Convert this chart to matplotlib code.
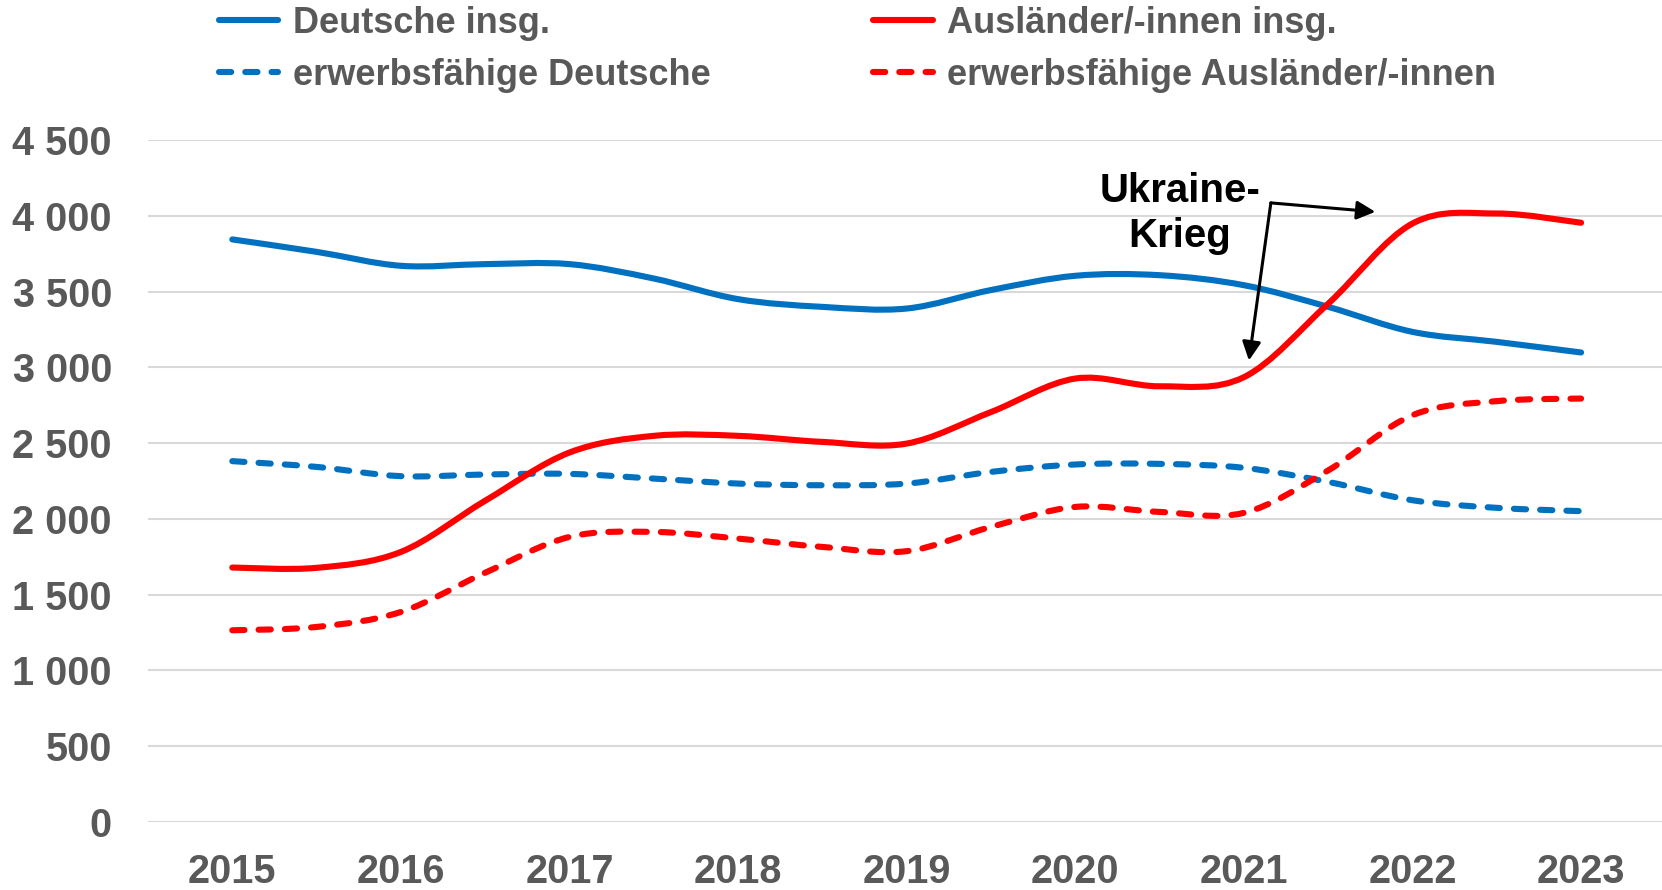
import numpy as np
import matplotlib
matplotlib.use("Agg")
import matplotlib.pyplot as plt
from matplotlib.path import Path
from matplotlib.patches import PathPatch
from matplotlib.lines import Line2D
from matplotlib.ticker import FuncFormatter, MultipleLocator

# values, half-year steps 2015 ... 2023
periods = [2015, 2015.5, 2016, 2016.5, 2017, 2017.5, 2018, 2018.5, 2019,
           2019.5, 2020, 2020.5, 2021, 2021.5, 2022, 2022.5, 2023]
deutsche = [3844, 3762, 3670, 3681, 3681, 3586, 3450, 3399, 3388,
            3510, 3604, 3608, 3542, 3399, 3234, 3168, 3098]
deutsche_erw = [2381, 2343, 2282, 2293, 2297, 2266, 2233, 2222, 2233,
                2310, 2359, 2363, 2337, 2244, 2123, 2073, 2051]
auslaender = [1679, 1677, 1782, 2120, 2438, 2548, 2548, 2508, 2497,
              2705, 2926, 2875, 2935, 3420, 3949, 4015, 3954]
auslaender_erw = [1265, 1287, 1386, 1645, 1881, 1914, 1870, 1815, 1787,
                  1947, 2079, 2046, 2040, 2320, 2684, 2777, 2794]
years = [2015, 2016, 2017, 2018, 2019, 2020, 2021, 2022, 2023]

labels = ["Deutsche insg.", "erwerbsfähige Deutsche",
          "Ausländer/-innen insg.", "erwerbsfähige Ausländer/-innen"]

BLUE = "#0070C0"
RED = "#FF0000"
GREY = "#595959"
FONT = "Liberation Sans"

# annotation geometry (data coords)
note_xy = (2020.62, 4015)
arrow_corner = (2021.16, 4085)
arrow_tips = [(2021.78, 4026), (2021.03, 3045)]


def smooth_path(xs, ys):
    # Excel-like smoothed line: Catmull-Rom segments as cubic Bezier curves
    pts = np.column_stack([xs, ys]).astype(float)
    n = len(pts)
    verts = [pts[0]]
    codes = [Path.MOVETO]
    for i in range(n - 1):
        p0 = pts[max(i - 1, 0)]
        p1 = pts[i]
        p2 = pts[i + 1]
        p3 = pts[min(i + 2, n - 1)]
        verts += [p1 + (p2 - p0) / 6, p2 - (p3 - p1) / 6, p2]
        codes += [Path.CURVE4] * 3
    return Path(verts, codes)


W, H = 1662, 890
fig = plt.figure(figsize=(W / 100, H / 100), dpi=100)
ax = fig.add_axes([148 / W, 68 / H, 1 - 148 / W, (822 - 140) / H])

lw = 4.4
dash = (0, (2.0, 2.3))
series = [
    (deutsche, BLUE, "-"),
    (deutsche_erw, BLUE, dash),
    (auslaender, RED, "-"),
    (auslaender_erw, RED, dash),
]
for vals, col, ls in series:
    patch = PathPatch(smooth_path(periods, vals), facecolor="none", edgecolor=col,
                      lw=lw, linestyle=ls, capstyle="round", joinstyle="round", zorder=3)
    ax.add_patch(patch)

ax.set_xlim(2014.5, 2023.48)
ax.set_ylim(0, 4500)
ax.yaxis.set_major_locator(MultipleLocator(500))
ax.yaxis.set_major_formatter(FuncFormatter(lambda v, p: f"{int(v):,}".replace(",", " ")))
ax.set_xticks(years)
ax.set_xticklabels([str(y) for y in years])
ax.grid(axis="y", color="#D9D9D9", lw=1.5, zorder=0)
ax.set_axisbelow(True)
for s in ax.spines.values():
    s.set_visible(False)
ax.tick_params(axis="both", length=0, labelcolor=GREY)
ax.tick_params(axis="y", pad=26)
ax.tick_params(axis="x", pad=22)
for lab in ax.get_xticklabels() + ax.get_yticklabels():
    lab.set_fontfamily(FONT)
    lab.set_fontweight("bold")
    lab.set_fontsize(28.5)

# Ukraine-Krieg note with two arrows
ax.text(note_xy[0], note_xy[1], "Ukraine-\nKrieg", ha="center", va="center",
        fontfamily=FONT, fontweight="bold", fontsize=29, color="black",
        linespacing=1.22, zorder=5)
for tip in arrow_tips:
    ax.annotate("", xy=tip, xytext=arrow_corner,
                arrowprops=dict(arrowstyle="-|>", color="black", lw=2.2,
                                mutation_scale=28, shrinkA=0, shrinkB=0),
                zorder=5)

handles = [Line2D([], [], color=c, lw=lw, linestyle=l, solid_capstyle="round",
                  dash_capstyle="round") for _, c, l in series]
fig.legend(handles, labels, ncol=2, loc="upper left",
           bbox_to_anchor=(217 / W, 1 - 4 / H),
           frameon=False, borderpad=0.05, borderaxespad=0,
           prop={"family": FONT, "weight": "bold", "size": 26}, labelcolor=GREY,
           handlelength=1.65, handletextpad=0.4, columnspacing=4.5, labelspacing=0.47)

fig.savefig("out.png", dpi=100)
